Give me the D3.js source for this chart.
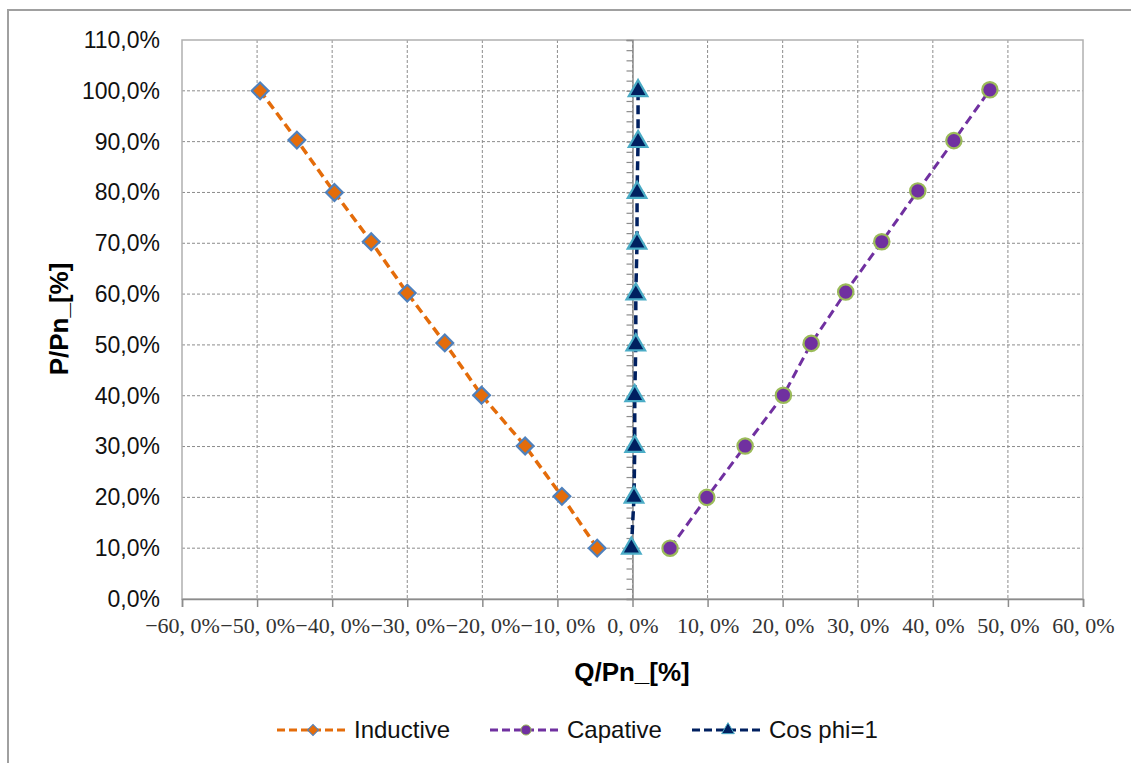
<!DOCTYPE html>
<html><head><meta charset="utf-8">
<script src="https://cdn.jsdelivr.net/npm/d3@7"></script>
<style>html,body{margin:0;padding:0;background:#fff;}svg{display:block;}</style>
</head><body>
<svg id="chart" width="1131" height="763"></svg>
<script>
// ---- data ----
const pLevels = [10, 20, 30, 40, 50, 60, 70, 80, 90, 100];
const inductiveQ = [-4.7, -9.4, -14.3, -20.1, -25.0, -30.0, -34.8, -39.7, -44.7, -49.6];
const inductiveP = [10, 20.2, 30.1, 40.1, 50.4, 60.2, 70.3, 80, 90.3, 100];
const capativeQ = [5.0, 9.9, 15.0, 20.1, 23.8, 28.4, 33.2, 38.0, 42.8, 47.6];
const capativeP = [10, 20, 30.1, 40.1, 50.3, 60.4, 70.3, 80.3, 90.2, 100.2];
const cosPhiQ = [-0.15, 0.2, 0.3, 0.3, 0.44, 0.44, 0.6, 0.61, 0.74, 0.74];
const cosPhiP = pLevels;
const xTicks = [-60, -50, -40, -30, -20, -10, 0, 10, 20, 30, 40, 50, 60];
const yTicks = [0, 10, 20, 30, 40, 50, 60, 70, 80, 90, 100, 110];
const seriesNames = ["Inductive", "Capative", "Cos phi=1"];

(function () {
const svg = d3.select("#chart");
const pL = 182, pR = 1083, pT = 40, pB = 599;
const x = d3.scaleLinear().domain([-60, 60]).range([pL, pR]);
const y = d3.scaleLinear().domain([0, 110]).range([pB, pT]);

// outer border
svg.append("path").attr("d", "M8,763 L8,10 L1131,10")
  .attr("fill", "none").attr("stroke", "#a0a0a0").attr("stroke-width", 2);

// grid
const g = svg.append("g");
g.selectAll(".gx").data(xTicks.slice(1, -1)).enter().append("line")
  .attr("x1", d => x(d)).attr("x2", d => x(d)).attr("y1", pT).attr("y2", pB)
  .attr("stroke", "#8c8c8c").attr("stroke-width", 1).attr("stroke-dasharray", "3,2");
g.selectAll(".gy").data(yTicks.slice(1, -1)).enter().append("line")
  .attr("y1", d => y(d)).attr("y2", d => y(d)).attr("x1", pL).attr("x2", pR)
  .attr("stroke", "#8c8c8c").attr("stroke-width", 1).attr("stroke-dasharray", "3,2");
// plot border
g.append("rect").attr("x", pL).attr("y", pT).attr("width", pR - pL).attr("height", pB - pT)
  .attr("fill", "none").attr("stroke", "#b0b0b0").attr("stroke-width", 1.5);

// x axis (bottom) with major ticks down
const fmtX = d => (d < 0 ? "\u2212" : "") + Math.abs(d) + ", 0%";
const xAxis = d3.axisBottom(x).tickValues(xTicks).tickSize(8).tickPadding(7).tickFormat(fmtX);
const xa = svg.append("g").attr("transform", `translate(0,${pB})`).call(xAxis);
xa.select(".domain").attr("stroke", "#8c8c8c").attr("stroke-width", 1.5);
xa.selectAll(".tick line").attr("stroke", "#8c8c8c").attr("stroke-width", 1.5);
xa.selectAll("text").attr("font-family", "'Liberation Serif', serif").attr("font-size", 22)
  .attr("fill", "#333").attr("dy", "0.88em");

// vertical axis line at x=0 with minor ticks (left)
const minor = d3.range(0, 111, 2);
const ya0 = svg.append("g").attr("transform", `translate(${x(0)},0)`)
  .call(d3.axisLeft(y).tickValues(minor).tickSize(6).tickFormat(""));
ya0.select(".domain").attr("stroke", "#8c8c8c").attr("stroke-width", 1.5);
ya0.selectAll(".tick line").attr("stroke", "#8c8c8c").attr("stroke-width", 1.2);

// y labels at left
const fmtY = d => d + ",0%";
const yl = svg.append("g").attr("transform", `translate(${pL},0)`)
  .call(d3.axisLeft(y).tickValues(yTicks).tickSize(0).tickPadding(22).tickFormat(fmtY));
yl.select(".domain").remove();
yl.selectAll("text").attr("font-family", "'Liberation Sans', Arial, sans-serif").attr("font-size", 23)
  .attr("fill", "#111");

// axis titles
svg.append("text").attr("x", 632).attr("y", 681).attr("text-anchor", "middle")
  .attr("font-family", "'Liberation Sans', Arial, sans-serif").attr("font-weight", "bold")
  .attr("font-size", 26).attr("fill", "#000").text("Q/Pn_[%]");
svg.append("text").attr("transform", "translate(68,319) rotate(-90)").attr("text-anchor", "middle")
  .attr("font-family", "'Liberation Sans', Arial, sans-serif").attr("font-weight", "bold")
  .attr("font-size", 26).attr("fill", "#000").text("P/Pn_[%]");

// series
const series = [
  {name: seriesNames[0], q: inductiveQ, p: inductiveP, line: "#E46C0A", fill: "#E46C0A", stroke: "#4F81BD", sym: d3.symbolSquare, rot: 45, size: 140, lsize: 60, lw: 3.5},
  {name: seriesNames[1], q: capativeQ, p: capativeP, line: "#7030A0", fill: "#7030A0", stroke: "#9BBB59", sym: d3.symbolCircle, rot: 0, size: 185, lsize: 80, lw: 3},
  {name: seriesNames[2], q: cosPhiQ, p: cosPhiP, line: "#002060", fill: "#002060", stroke: "#4BACC6", sym: d3.symbolTriangle, rot: 0, size: 150, lsize: 70, lw: 3.5}
];
const lineGen = d3.line().x(d => x(d[0])).y(d => y(d[1]));
series.forEach(s => {
  const pts = s.q.map((q, i) => [q, s.p[i]]);
  svg.append("path").datum(pts).attr("d", lineGen).attr("fill", "none")
    .attr("stroke", s.line).attr("stroke-width", s.lw).attr("stroke-dasharray", "9,5");
  svg.selectAll(null).data(pts).enter().append("path")
    .attr("d", d3.symbol().type(s.sym).size(s.size))
    .attr("transform", d => `translate(${x(d[0])},${y(d[1])}) rotate(${s.rot})`)
    .attr("fill", s.fill).attr("stroke", s.stroke).attr("stroke-width", 2.2);
});

// legend
const legendX = [277, 490, 692];
const lg = svg.append("g");
series.forEach((s, i) => {
  const lx = legendX[i], ly = 730;
  lg.append("line").attr("x1", lx).attr("x2", lx + 72).attr("y1", ly).attr("y2", ly)
    .attr("stroke", s.line).attr("stroke-width", 3).attr("stroke-dasharray", "8,4");
  lg.append("path").attr("d", d3.symbol().type(s.sym).size(s.lsize))
    .attr("transform", `translate(${lx + 36},${ly}) rotate(${s.rot})`)
    .attr("fill", s.fill).attr("stroke", s.stroke).attr("stroke-width", 1);
  lg.append("text").attr("x", lx + 77).attr("y", ly + 8)
    .attr("font-family", "'Liberation Sans', Arial, sans-serif").attr("font-size", 24)
    .attr("fill", "#111").text(s.name);
});
})();
</script>
</body></html>
